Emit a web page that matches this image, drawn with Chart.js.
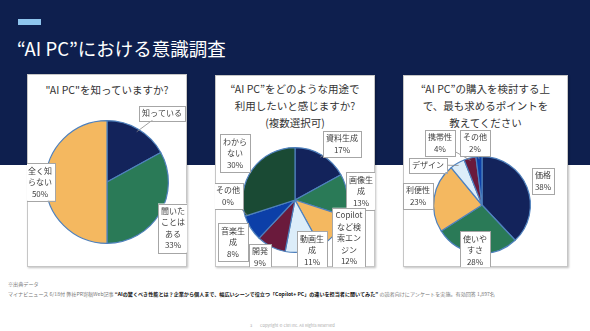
<!DOCTYPE html>
<html>
<head>
<meta charset="utf-8">
<script src="https://cdn.jsdelivr.net/npm/chart.js"></script>
<style>
  body { margin: 0; width: 590px; height: 331px; position: relative; overflow: hidden; background: #fff;
         font-family: "Noto Sans CJK JP", "Noto Sans", sans-serif; }
  .band { position: absolute; left: 0; top: 0; width: 590px; height: 165px; background: #0e1f4e; }
  .accent { position: absolute; left: 18px; top: 19px; width: 23px; height: 6px; background: #8ec5ee; }
  .title { position: absolute; left: 17px; top: 35px; font-size: 18.5px; color: #fff; line-height: 26px; white-space: nowrap; }
  .panel { position: absolute; background: #fff; border: 1px solid #c6c6c6; box-sizing: border-box;
           box-shadow: 1px 1px 2px rgba(0,0,0,0.25); }
  .panel canvas { position: absolute; left: -1px; top: -1px; }
  .ptitle { position: absolute; left: 0; right: 0; text-align: center; font-size: 10.5px; color: #333;
            line-height: 17px; white-space: nowrap; }
  .src { position: absolute; left: 8px; font-size: 5.1px; color: #777; white-space: nowrap; line-height: 8px; }
  .src b { color: #111; }
  .copy { position: absolute; top: 322px; font-size: 4px; color: #aaa; white-space: nowrap; }
</style>
</head>
<body>
<div class="band"></div>
<div class="accent"></div>
<div class="title">“AI PC”における意識調査</div>

<div class="panel" style="left:27px;top:74px;width:160px;height:193px;">
  <div class="ptitle" style="top:6px;">"AI PC"を知っていますか?</div>
  <canvas id="c1" width="160" height="193"></canvas>
</div>
<div class="panel" style="left:215px;top:75px;width:160px;height:192px;">
  <div class="ptitle" style="top:4px;">“AI PC”をどのような用途で<br>利用したいと感じますか?<br>(複数選択可)</div>
  <canvas id="c2" width="160" height="192"></canvas>
</div>
<div class="panel" style="left:403px;top:75px;width:165px;height:192px;">
  <div class="ptitle" style="top:4px;">“AI PC”の購入を検討する上<br>で、最も求めるポイントを<br>教えてください</div>
  <canvas id="c3" width="165" height="192"></canvas>
</div>

<div class="src" style="top:280px;">※出典データ</div>
<div class="src" style="top:290px;">マイナビニュース 6/18付 弊社PR寄稿Web記事 <b>“AIの驚くべき性能とは？企業から個人まで、幅広いシーンで役立つ「Copilot+ PC」の違いを担当者に聞いてみた”</b> の読者向けにアンケートを実施。有効回答 1,897名</div>
<div class="copy" style="left:250px;">3</div>
<div class="copy" style="left:260px;">Copyright © Ctel Inc. All Rights Reserved</div>

<script>
// Q1: AI PCを知っていますか?
const q1Labels = ['知っている', '聞いたことはある', '全く知らない'];
const q1Values = [17, 33, 50];
const q1Colors = ['#13235b', '#2a7a57', '#f4b860'];

// Q2: どのような用途で利用したいか (複数選択可)
const q2Labels = ['資料生成', '画像生成', 'Copilotなど検索エンジン', '動画生成', '開発', '音楽生成', 'その他', 'わからない'];
const q2Values = [17, 13, 12, 11, 9, 8, 0, 30];
const q2Colors = ['#13235b', '#2a7a57', '#f4b860', '#dcedf9', '#6a1a3c', '#0c3fa8', '#4f81bd', '#1a4a34'];

// Q3: 購入を検討する上で最も求めるポイント
const q3Labels = ['価格', '使いやすさ', '利便性', 'デザイン', '携帯性', 'その他'];
const q3Values = [38, 28, 23, 5, 4, 2];
const q3Colors = ['#13235b', '#2a7a57', '#f4b860', '#dcedf9', '#6a1a3c', '#0c3fa8'];

// 1行に収まる幅で折り返す（英字の連続は1語として扱う）
function wrapText(ctx, text, maxW) {
  const tokens = text.match(/[A-Za-z0-9+]+|./g);
  const lines = [];
  let cur = '';
  tokens.forEach(t => {
    if (cur && ctx.measureText(cur + t).width > maxW) {
      lines.push(cur);
      cur = t;
    } else {
      cur += t;
    }
  });
  if (cur) lines.push(cur);
  return lines;
}

const boxLabels = {
  id: 'boxLabels',
  afterDraw(chart, args, opts) {
    const ctx = chart.ctx;
    const arcs = chart.getDatasetMeta(0).data;
    const vals = chart.data.datasets[0].data;
    ctx.save();
    ctx.font = '8px "Noto Sans CJK JP"';
    ctx.textAlign = 'center';
    ctx.textBaseline = 'middle';
    const lh = 11.5, pad = 3;
    arcs.forEach((arc, i) => {
      const off = opts.offsets[i];
      const bx = arc.x + off[0], by = arc.y + off[1];
      const lines = wrapText(ctx, chart.data.labels[i], opts.noWrap.includes(i) ? 999 : 26);
      if (!opts.hidePct.includes(i)) lines.push(vals[i] + '%');
      const w = Math.max(...lines.map(l => ctx.measureText(l).width)) + pad * 2;
      const h = lines.length * lh + pad;

      if (opts.leaders.includes(i)) {
        const mid = (arc.startAngle + arc.endAngle) / 2;
        ctx.strokeStyle = '#8a8a8a';
        ctx.lineWidth = 0.8;
        ctx.beginPath();
        ctx.moveTo(arc.x + Math.cos(mid) * arc.outerRadius * 0.95, arc.y + Math.sin(mid) * arc.outerRadius * 0.95);
        ctx.lineTo(bx, by);
        ctx.stroke();
      }

      ctx.fillStyle = '#fff';
      ctx.fillRect(bx - w / 2, by - h / 2, w, h);
      ctx.strokeStyle = '#a6a6a6';
      ctx.lineWidth = 1;
      ctx.strokeRect(Math.round(bx - w / 2) + 0.5, Math.round(by - h / 2) + 0.5, Math.round(w), Math.round(h));

      ctx.fillStyle = '#404040';
      lines.forEach((l, k) => {
        ctx.fillText(l, bx, by - h / 2 + pad / 2 + lh * (k + 0.5));
      });
    });
    ctx.restore();
  }
};

function makePie(id, labels, values, colors, padding, labelOpts) {
  new Chart(document.getElementById(id), {
    type: 'pie',
    data: {
      labels: labels,
      datasets: [{
        data: values,
        backgroundColor: colors,
        borderColor: '#4f81bd',
        borderWidth: 1.2
      }]
    },
    options: {
      responsive: false,
      animation: false,
      layout: { padding: padding },
      plugins: {
        legend: { display: false },
        tooltip: { enabled: false },
        boxLabels: labelOpts
      }
    },
    plugins: [boxLabels]
  });
}

makePie('c1', q1Labels, q1Values, q1Colors,
  { left: 18, right: 18, top: 46, bottom: 23 },
  { offsets: [[55, -69], [66, 46], [-67, 0]], noWrap: [0], hidePct: [0], leaders: [0] });

makePie('c2', q2Labels, q2Values, q2Colors,
  { left: 27, right: 27, top: 72, bottom: 14 },
  { offsets: [[47, -56], [66, -9], [54, 38], [17, 50], [-35, 57], [-62, 42], [-67, -4], [-60, -47]],
    noWrap: [0, 4, 6], hidePct: [], leaders: [0, 6] });

makePie('c3', q3Labels, q3Values, q3Colors,
  { left: 30, right: 37, top: 81, bottom: 13 },
  { offsets: [[61, -24], [-7, 45], [-64, -9], [-54, -40], [-42, -62], [-7, -62]],
    noWrap: [0, 2, 3, 4, 5], hidePct: [3], leaders: [3, 4, 5] });
</script>
</body>
</html>
